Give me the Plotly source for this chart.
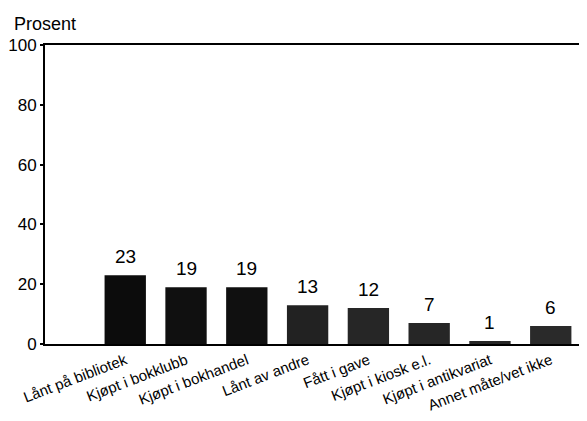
import plotly.graph_objects as go

categories = ["Lånt på bibliotek", "Kjøpt i bokklubb", "Kjøpt i bokhandel", "Lånt av andre",
              "Fått i gave", "Kjøpt i kiosk e.l.", "Kjøpt i antikvariat", "Annet måte/vet ikke"]
values = [23, 19, 19, 13, 12, 7, 1, 6]
y_ticks = [0, 20, 40, 60, 80, 100]

bar_colors = ["#0c0c0c", "#101010", "#101010", "#222222", "#262626", "#262626", "#262626", "#2a2a2a"]
FONT = "Liberation Sans Narrow, Arial Narrow, Liberation Sans, Arial, sans-serif"

# page body has an 8px margin: compensate so the plot lands where the reference has it
fig = go.Figure()
fig.add_trace(go.Bar(x=categories, y=values, marker=dict(color=bar_colors, line=dict(width=0)),
                     hoverinfo="skip"))

for c, v in zip(categories, values):
    fig.add_annotation(x=c, y=v, text=str(v), showarrow=False, yanchor="bottom",
                       yshift=6, font=dict(family=FONT, size=19, color="black"))

fig.add_annotation(xref="paper", yref="paper", x=-0.061, y=1.03, xanchor="left", yanchor="bottom",
                   text="Prosent", showarrow=False, font=dict(family=FONT, size=18, color="black"))

fig.update_layout(
    width=579, height=413,
    margin=dict(l=37, r=1, t=37, b=77, autoexpand=False),
    paper_bgcolor="white", plot_bgcolor="white",
    bargap=0.32, showlegend=False,
    font=dict(family=FONT, color="black"),
)
fig.update_xaxes(range=[-1.32, 7.58], showline=True, linecolor="black", linewidth=2, mirror=True,
                 ticks="", tickangle=-21, tickfont=dict(family=FONT, size=15, color="black"),
                 showgrid=False, automargin=False)
fig.update_yaxes(range=[0, 100], tickvals=y_ticks, showline=True, linecolor="black", linewidth=2,
                 mirror=True, ticks="outside", ticklen=3, tickwidth=1.5, tickcolor="black",
                 tickfont=dict(family=FONT, size=17, color="black"), showgrid=False, zeroline=False,
                 automargin=False)

fig.write_html("out.html")
